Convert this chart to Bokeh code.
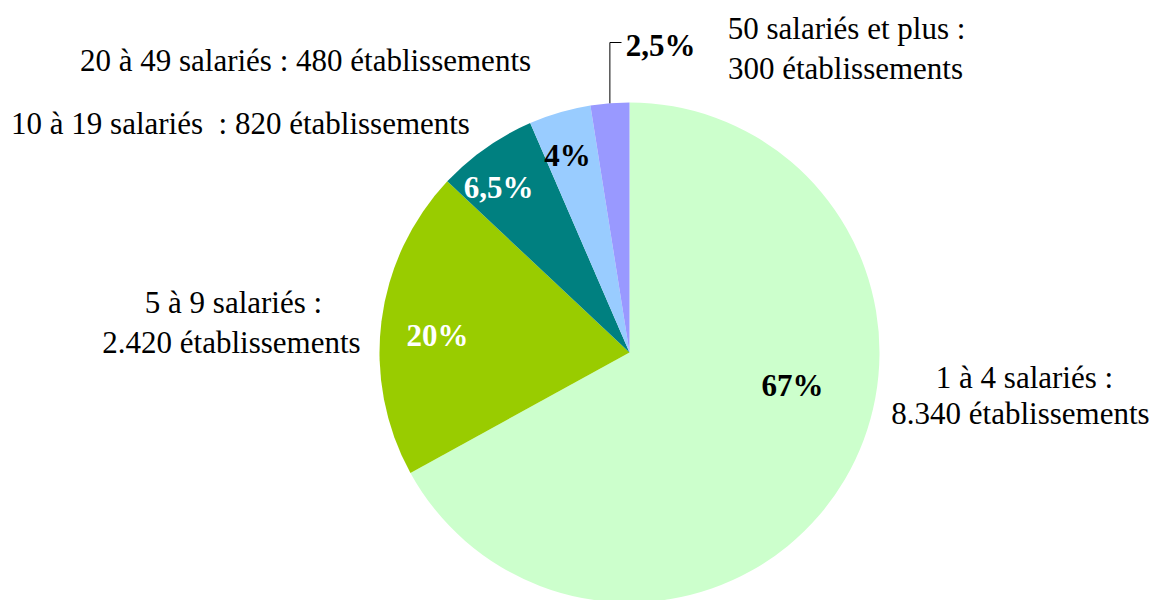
import math
from bokeh.plotting import figure
from bokeh.models import Range1d, ColumnDataSource
from bokeh.core.properties import value
from bokeh.embed import file_html
from bokeh.resources import INLINE

# ---- data ----
categories = ["1 à 4 salariés", "5 à 9 salariés", "10 à 19 salariés",
              "20 à 49 salariés", "50 salariés et plus"]
shares = [67, 20, 6.5, 4, 2.5]
pct_labels = ["67%", "20%", "6,5%", "4%", "2,5%"]
establishments = ["8.340", "2.420", "820", "480", "300"]
colors = ["#CCFFCC", "#99CC00", "#008080", "#99CCFF", "#9999FF"]
pct_colors = ["black", "white", "white", "black", "black"]

W, H = 1156, 600
p = figure(width=W, height=H, output_backend="svg", toolbar_location=None,
           x_range=Range1d(0, W), y_range=Range1d(0, H), min_border=0)
p.axis.visible = False
p.grid.visible = False
p.outline_line_color = None
p.background_fill_color = "white"
p.border_fill_color = "white"

def px(x):
    return x

def py(y):
    return H - y

cx, cy, r = px(629), py(352), 250

total = sum(shares)
starts, ends = [], []
cum = 0.0
for s in shares:
    starts.append(math.pi / 2 - 2 * math.pi * cum / total)
    cum += s
    ends.append(math.pi / 2 - 2 * math.pi * cum / total)

src = ColumnDataSource(dict(start=starts, end=ends, color=colors))
p.wedge(x=cx, y=cy, radius=r, start_angle="start", end_angle="end",
        direction="clock", fill_color="color", line_color=None, source=src)

FONT = value("Times New Roman")

# percentage labels
pct_pos = [(792, 385), (437, 335), (498, 187), (567, 155), (660, 45)]
for lab, (x, y), c in zip(pct_labels, pct_pos, pct_colors):
    p.text(x=[px(x)], y=[py(y)], text=[lab], text_font=FONT,
           text_font_size="31px", text_font_style="bold", text_color=c,
           text_align="center", text_baseline="middle")

# leader line for smallest slice
mid = (starts[4] + ends[4]) / 2
lx = cx + r * math.cos(mid)
ly = cy + r * math.sin(mid)
p.line(x=[lx, lx, px(621)], y=[ly, py(42), py(42)], line_color="black", line_width=1)

# category labels
cat_lines = [
    [(f"{categories[0]} :", 1024, 377), (f"{establishments[0]} établissements", 1020, 413)],
    [(f"{categories[1]} :", 233, 302), (f"{establishments[1]} établissements", 231, 342)],
    [(f"{categories[2]}\u00a0 : {establishments[2]} établissements", 240, 123)],
    [(f"{categories[3]} : {establishments[3]} établissements", 305, 60)],
    [(f"{categories[4]} :", 846, 28), (f"{establishments[4]} établissements", 845, 68)],
]
for lines in cat_lines:
    for t, x, y in lines:
        p.text(x=[px(x)], y=[py(y)], text=[t], text_font=FONT,
               text_font_size="31px", text_color="black",
               text_align="center", text_baseline="middle")

open("out.html", "w").write(file_html(p, INLINE))
